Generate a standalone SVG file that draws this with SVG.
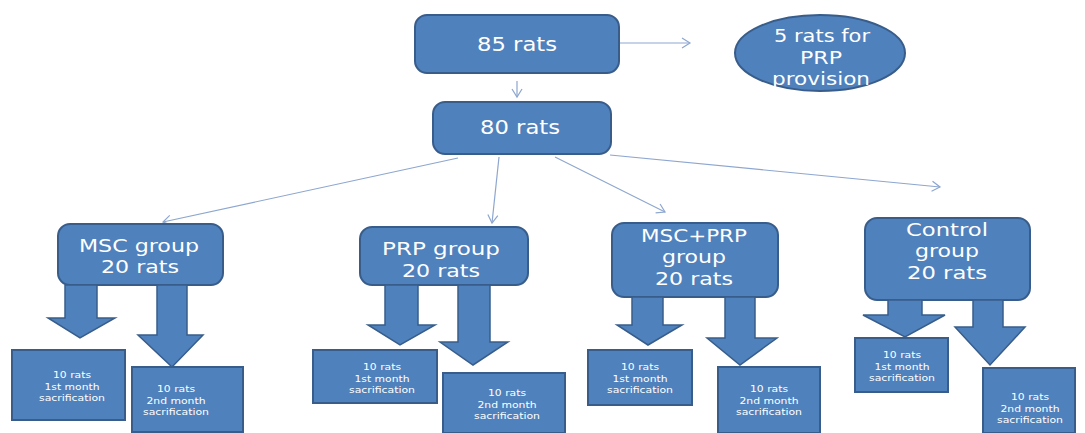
<svg xmlns="http://www.w3.org/2000/svg" width="1085" height="433" viewBox="0 0 1085 433">
<defs>
<style>
.box{fill:#4F81BD;stroke:#385D8A;stroke-width:2}
.blk{fill:#4F81BD;stroke:#385D8A;stroke-width:1.5;stroke-linejoin:miter}
.t{font-family:"DejaVu Sans","Liberation Sans",sans-serif;fill:#ffffff;text-anchor:middle}
.big{font-size:18px}
.sm{font-size:9.5px}
.con{stroke:#8DA6CF;stroke-width:1.2;fill:none;marker-end:url(#ah)}
</style>
<marker id="ah" markerWidth="12" markerHeight="12" refX="10" refY="6" orient="auto" markerUnits="userSpaceOnUse">
<path d="M2,1 L10,6 L2,11" fill="none" stroke="#8DA6CF" stroke-width="1.2"/>
</marker>
</defs>
<rect width="1085" height="433" fill="#ffffff"/>
<g id="connectors">
<line class="con" x1="619" y1="43" x2="690" y2="43"/>
<line class="con" x1="517" y1="81" x2="517" y2="97"/>
<line class="con" x1="458" y1="158" x2="163" y2="222"/>
<line class="con" x1="499" y1="157" x2="492" y2="223"/>
<line class="con" x1="555" y1="157" x2="665" y2="212"/>
<line class="con" x1="610" y1="155" x2="940" y2="187"/>
</g>
<g id="n85">
<rect class="box" x="415" y="15" width="204" height="58" rx="12"/>
<text class="t" font-size="19" x="517" y="51" textLength="80" lengthAdjust="spacingAndGlyphs">85 rats</text>
</g>
<g id="nprp">
<ellipse class="box" cx="820" cy="53" rx="85" ry="38"/>
<text class="t big" x="822" y="42" textLength="96" lengthAdjust="spacingAndGlyphs">5 rats for</text>
<text class="t big" x="821" y="64" textLength="42" lengthAdjust="spacingAndGlyphs">PRP</text>
<text class="t big" x="821" y="85" textLength="98" lengthAdjust="spacingAndGlyphs">provision</text>
</g>
<g id="n80">
<rect class="box" x="433" y="102" width="178" height="52" rx="12"/>
<text class="t" font-size="19" x="520" y="134" textLength="80" lengthAdjust="spacingAndGlyphs">80 rats</text>
</g>
<g id="msc">
<rect class="box" x="58" y="224" width="165" height="61" rx="12"/>
<text class="t big" x="139" y="252" textLength="120" lengthAdjust="spacingAndGlyphs">MSC group</text>
<text class="t big" x="140" y="273" textLength="78" lengthAdjust="spacingAndGlyphs">20 rats</text>
<polygon class="blk" points="65,285 97,285 97,318 115,318 80,338 48,318 65,318"/>
<polygon class="blk" points="157,285 187,285 187,335 203,335 172,367 138,335 157,335"/>
</g>
<g id="msc1">
<rect class="box" x="12" y="350" width="113" height="70"/>
<text class="t sm" x="72" y="378" textLength="38" lengthAdjust="spacingAndGlyphs">10 rats</text>
<text class="t sm" x="72" y="389.5" textLength="55" lengthAdjust="spacingAndGlyphs">1st month</text>
<text class="t sm" x="72" y="401" textLength="66" lengthAdjust="spacingAndGlyphs">sacrification</text>
</g>
<g id="msc2">
<rect class="box" x="132" y="367" width="111" height="65"/>
<text class="t sm" x="176" y="392" textLength="38" lengthAdjust="spacingAndGlyphs">10 rats</text>
<text class="t sm" x="176" y="403.5" textLength="59" lengthAdjust="spacingAndGlyphs">2nd month</text>
<text class="t sm" x="176" y="415" textLength="66" lengthAdjust="spacingAndGlyphs">sacrification</text>
</g>
<g id="prp">
<rect class="box" x="360" y="227" width="168" height="58" rx="12"/>
<text class="t big" x="441" y="255" textLength="118" lengthAdjust="spacingAndGlyphs">PRP group</text>
<text class="t big" x="441" y="277" textLength="78" lengthAdjust="spacingAndGlyphs">20 rats</text>
<polygon class="blk" points="385,285 418,285 418,325 435,325 400,345 368,325 385,325"/>
<polygon class="blk" points="458,285 490,285 490,342 508,342 473,365 440,342 458,342"/>
</g>
<g id="prp1">
<rect class="box" x="313" y="350" width="124" height="53"/>
<text class="t sm" x="382" y="370" textLength="38" lengthAdjust="spacingAndGlyphs">10 rats</text>
<text class="t sm" x="382" y="381.5" textLength="55" lengthAdjust="spacingAndGlyphs">1st month</text>
<text class="t sm" x="382" y="393" textLength="66" lengthAdjust="spacingAndGlyphs">sacrification</text>
</g>
<g id="prp2">
<rect class="box" x="443" y="373" width="122" height="60"/>
<text class="t sm" x="507" y="396" textLength="38" lengthAdjust="spacingAndGlyphs">10 rats</text>
<text class="t sm" x="507" y="407.5" textLength="59" lengthAdjust="spacingAndGlyphs">2nd month</text>
<text class="t sm" x="507" y="419" textLength="66" lengthAdjust="spacingAndGlyphs">sacrification</text>
</g>
<g id="mscprp">
<rect class="box" x="612" y="223" width="166" height="74" rx="12"/>
<text class="t big" x="694" y="242" textLength="106" lengthAdjust="spacingAndGlyphs">MSC+PRP</text>
<text class="t big" x="694" y="263" textLength="64" lengthAdjust="spacingAndGlyphs">group</text>
<text class="t big" x="694" y="285" textLength="78" lengthAdjust="spacingAndGlyphs">20 rats</text>
<polygon class="blk" points="632,297 663,297 663,325 682,325 648,345 617,325 632,325"/>
<polygon class="blk" points="725,297 755,297 755,338 777,338 740,365 707,338 725,338"/>
</g>
<g id="mscprp1">
<rect class="box" x="588" y="350" width="104" height="55"/>
<text class="t sm" x="640" y="370" textLength="38" lengthAdjust="spacingAndGlyphs">10 rats</text>
<text class="t sm" x="640" y="381.5" textLength="55" lengthAdjust="spacingAndGlyphs">1st month</text>
<text class="t sm" x="640" y="393" textLength="66" lengthAdjust="spacingAndGlyphs">sacrification</text>
</g>
<g id="mscprp2">
<rect class="box" x="718" y="367" width="102" height="66"/>
<text class="t sm" x="769" y="392" textLength="38" lengthAdjust="spacingAndGlyphs">10 rats</text>
<text class="t sm" x="769" y="403.5" textLength="59" lengthAdjust="spacingAndGlyphs">2nd month</text>
<text class="t sm" x="769" y="415" textLength="66" lengthAdjust="spacingAndGlyphs">sacrification</text>
</g>
<g id="control">
<rect class="box" x="865" y="218" width="165" height="82" rx="12"/>
<text class="t big" x="947" y="236" textLength="82" lengthAdjust="spacingAndGlyphs">Control</text>
<text class="t big" x="947" y="257" textLength="64" lengthAdjust="spacingAndGlyphs">group</text>
<text class="t big" x="947" y="279" textLength="80" lengthAdjust="spacingAndGlyphs">20 rats</text>
<polygon class="blk" points="888,300 922,300 922,315 945,315 905,337 863,315 888,315"/>
<polygon class="blk" points="973,300 1003,300 1003,327 1025,327 990,365 955,327 973,327"/>
</g>
<g id="control1">
<rect class="box" x="855" y="338" width="93" height="54"/>
<text class="t sm" x="902" y="358" textLength="38" lengthAdjust="spacingAndGlyphs">10 rats</text>
<text class="t sm" x="902" y="369.5" textLength="55" lengthAdjust="spacingAndGlyphs">1st month</text>
<text class="t sm" x="902" y="381" textLength="66" lengthAdjust="spacingAndGlyphs">sacrification</text>
</g>
<g id="control2">
<rect class="box" x="983" y="368" width="92" height="65"/>
<text class="t sm" x="1030" y="400" textLength="38" lengthAdjust="spacingAndGlyphs">10 rats</text>
<text class="t sm" x="1030" y="411.5" textLength="59" lengthAdjust="spacingAndGlyphs">2nd month</text>
<text class="t sm" x="1030" y="423" textLength="66" lengthAdjust="spacingAndGlyphs">sacrification</text>
</g>
</svg>
